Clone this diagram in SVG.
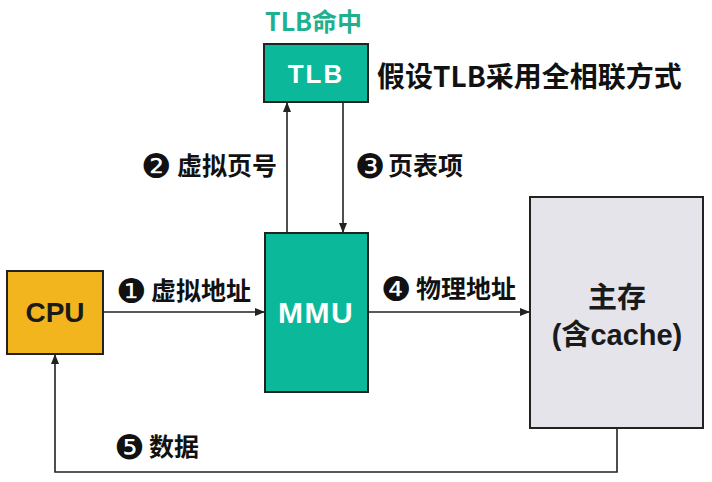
<svg xmlns="http://www.w3.org/2000/svg" width="712" height="482" viewBox="0 0 712 482">
<style>
.box{stroke:#222;stroke-width:2}
.teal{fill:#0bb99a}
.line{fill:none;stroke:#222;stroke-width:1.6}
.lbl{font-family:"Noto Sans CJK SC","DejaVu Sans",sans-serif;font-weight:bold;font-size:25px;fill:#111}
.num{font-family:"DejaVu Sans",sans-serif;font-size:34px;font-weight:normal}
.big{font-family:"Liberation Sans","Noto Sans CJK SC",sans-serif;font-weight:bold;text-anchor:middle}
</style>
<defs>
<marker id="ah" viewBox="0 0 10 8" refX="10" refY="4" markerWidth="10" markerHeight="8" markerUnits="userSpaceOnUse" orient="auto">
<path d="M0,0 L10,4 L0,8 Z" fill="#222"/>
</marker>
</defs>
<rect width="712" height="482" fill="#fff"/>
<g id="connectors">
<path class="line" d="M103,312 L265,312" marker-end="url(#ah)"/>
<path class="line" d="M287,233 L287,102" marker-end="url(#ah)"/>
<path class="line" d="M343,102 L343,233" marker-end="url(#ah)"/>
<path class="line" d="M368,312 L530,312" marker-end="url(#ah)"/>
<path class="line" d="M617,428 L617,472 L55,472 L55,354" marker-end="url(#ah)"/>
<text class="lbl" x="116" y="303"><tspan class="num">❶</tspan><tspan x="151" y="300">虚拟地址</tspan></text>
<text class="lbl" x="141" y="178"><tspan class="num">❷</tspan><tspan x="177" y="175">虚拟页号</tspan></text>
<text class="lbl" x="355" y="178"><tspan class="num">❸</tspan><tspan x="388" y="175">页表项</tspan></text>
<text class="lbl" x="381" y="301"><tspan class="num">❹</tspan><tspan x="416" y="298">物理地址</tspan></text>
<text class="lbl" x="114" y="459"><tspan class="num">❺</tspan><tspan x="149" y="456">数据</tspan></text>
</g>
<g id="tlb">
<text x="265" y="31" font-family="Noto Sans CJK SC, sans-serif" font-weight="bold" font-size="25" fill="#1fb08f">TLB命中</text>
<rect class="box teal" x="264" y="44" width="104" height="58"/>
<text class="big" x="316" y="83" font-size="26" fill="#fff" letter-spacing="2">TLB</text>
<text x="377" y="87" font-family="Noto Sans CJK SC, sans-serif" font-weight="bold" font-size="28" fill="#111">假设TLB采用全相联方式</text>
</g>
<g id="cpu">
<rect class="box" x="7" y="271" width="96" height="83" fill="#f2b51e"/>
<text class="big" x="55" y="322" font-size="28" fill="#1a1a1a">CPU</text>
</g>
<g id="mmu">
<rect class="box teal" x="265" y="233" width="103" height="159"/>
<text class="big" x="316" y="323" font-size="30" fill="#fff" letter-spacing="1.5">MMU</text>
</g>
<g id="memory">
<rect class="box" x="530" y="197" width="173" height="231" fill="#e4e4ea"/>
<text class="big" x="617" y="308" font-size="29" fill="#1a1a1a">主存</text>
<text class="big" x="617" y="345" font-size="29" fill="#1a1a1a">(含cache)</text>
</g>
</svg>
